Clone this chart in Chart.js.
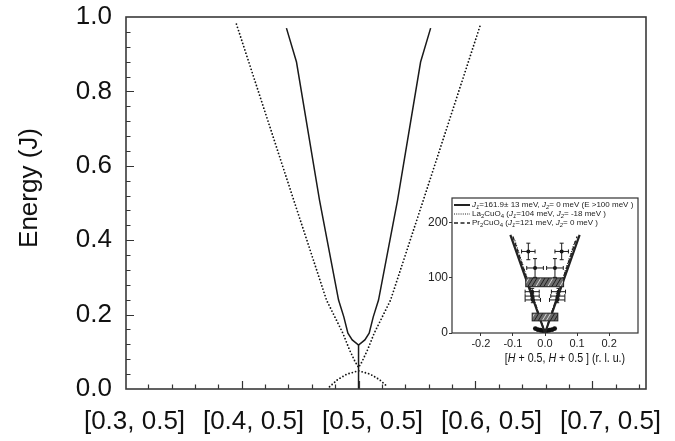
<!DOCTYPE html>
<html>
<head>
<meta charset="utf-8">
<script src="https://cdn.jsdelivr.net/npm/chart.js@4.4.1/dist/chart.umd.min.js"></script>
<style>
html, body { margin: 0; padding: 0; background: #fff; }
#wrap { position: relative; width: 675px; height: 441px; }
#main { position: absolute; left: 0; top: 0; }
#inset { position: absolute; left: 418px; top: 194px; }
</style>
</head>
<body>
<div id="wrap">
<canvas id="main" width="675" height="441"></canvas>
<canvas id="inset" width="224" height="176"></canvas>
</div>
<script>
// ---- main panel data (q along [H, 0.5], energy in units of J) ----
var xTickVals = [0.3, 0.4, 0.5, 0.6, 0.7];
var xTickLabels = ['[0.3, 0.5]', '[0.4, 0.5]', '[0.5, 0.5]', '[0.6, 0.5]', '[0.7, 0.5]'];
var yTickVals = [0, 0.2, 0.4, 0.6, 0.8, 1.0];

// gapped branch (solid)
var gapQ = [0.4383, 0.4469, 0.4666, 0.4829, 0.4874, 0.4909, 0.4946, 0.5, 0.5054, 0.5091, 0.5126, 0.5171, 0.5334, 0.5531, 0.5617];
var gapE = [0.970, 0.879, 0.508, 0.239, 0.194, 0.150, 0.132, 0.118, 0.132, 0.150, 0.194, 0.239, 0.508, 0.879, 0.970];
// vertical line under the gap
var spikeQ = [0.5, 0.5];
var spikeE = [0.118, 0];
// linear spin wave (dotted)
var lswQ = [0.3955, 0.4440, 0.4726, 0.4866, 0.4923, 0.4971, 0.5, 0.5029, 0.5077, 0.5134, 0.5274, 0.5560, 0.6045];
var lswE = [0.981, 0.513, 0.239, 0.150, 0.105, 0.073, 0.058, 0.073, 0.105, 0.150, 0.239, 0.513, 0.981];
// low dome (dotted)
var domeQ = [0.4752, 0.482, 0.49, 0.5, 0.51, 0.518, 0.5248];
var domeE = [0.006, 0.025, 0.040, 0.049, 0.040, 0.025, 0.006];

// ---- inset data (q in r.l.u., energy in meV) ----
var insXTicks = [-0.2, -0.1, 0, 0.1, 0.2];
var insYTicks = [0, 100, 200];
var fitQ = [-0.108, 0, 0.108];
var fitE = [178, 0, 178];
var laQ = [-0.094, 0, 0.094];
var laE = [168, 0, 168];
var prQ = [-0.100, 0, 0.100];
var prE = [175, 0, 175];
// measured peaks with error bars
var errQ  = [-0.052, 0.052, -0.031, 0.031, -0.040, 0.042, -0.040, 0.040, -0.038, 0.038];
var errE  = [148, 148, 118, 118, 75, 75, 67, 67, 60, 60];
var errDq = [0.021, 0.021, 0.026, 0.026, 0.022, 0.022, 0.022, 0.022, 0.024, 0.024];
var errDE = [15, 15, 17, 17, 6, 6, 5, 5, 5, 5];
// hatched bands
var bandQ0 = [-0.060, -0.040];
var bandQ1 = [0.058, 0.040];
var bandE0 = [84, 22];
var bandE1 = [100, 36];
// dark spot near zero energy
var spotQ = [-0.030, -0.022, -0.014, -0.006, 0, 0.006, 0.014, 0.022, 0.030];
var spotE = [8, 6, 5, 4, 2, 4, 5, 6, 8];

var FONT = '"Liberation Sans", Arial, Helvetica, sans-serif';

function pts(xs, ys) {
    return xs.map(function(x, i) { return {x: x, y: ys[i]}; });
}
// keep tick labels from pushing the plot area around
function noPad(s) {
    s.paddingLeft = 0; s.paddingRight = 0; s.paddingTop = 0; s.paddingBottom = 0;
}

// inward ticks + box frame for the main panel
var mainFrame = {
    id: 'mainFrame',
    afterDraw: function(chart) {
        var ctx = chart.ctx, a = chart.chartArea;
        var xs = chart.scales.x, ys = chart.scales.y;
        ctx.save();
        ctx.strokeStyle = '#333';
        ctx.lineWidth = 1.2;
        ctx.beginPath();
        for (var i = 0; i <= 22; i++) {
            var v = 0.3 + i * 0.02;
            var px = Math.round(xs.getPixelForValue(v)) + 0.5;
            if (px < a.left + 1 || px > a.right - 1) continue;
            var len = (i % 5 === 0) ? 8 : 4.5;
            ctx.moveTo(px, a.bottom);
            ctx.lineTo(px, a.bottom - len);
        }
        for (var j = 1; j < 25; j++) {
            var py = Math.round(ys.getPixelForValue(j * 0.04)) + 0.5;
            var l2 = (j % 5 === 0) ? 8 : 4.5;
            ctx.moveTo(a.left, py);
            ctx.lineTo(a.left + l2, py);
        }
        ctx.stroke();
        ctx.lineWidth = 1.6;
        ctx.strokeStyle = '#3a3a3a';
        ctx.strokeRect(a.left, a.top, a.right - a.left, a.bottom - a.top);
        // y title
        ctx.fillStyle = '#111';
        ctx.font = '26px ' + FONT;
        ctx.textAlign = 'center';
        ctx.textBaseline = 'middle';
        ctx.translate(30, 188);
        ctx.rotate(-Math.PI / 2);
        ctx.fillText('Energy (J)', 0, 0);
        ctx.restore();
    }
};

new Chart(document.getElementById('main'), {
    type: 'line',
    data: {
        datasets: [{
            label: 'gap',
            data: pts(gapQ, gapE),
            borderColor: '#1a1a1a',
            borderWidth: 1.5,
            pointRadius: 0,
            fill: false
        }, {
            label: 'spike',
            data: pts(spikeQ, spikeE),
            borderColor: '#1a1a1a',
            borderWidth: 1.5,
            pointRadius: 0,
            fill: false
        }, {
            label: 'lsw',
            data: pts(lswQ, lswE),
            borderColor: '#111',
            borderWidth: 1.8,
            borderDash: [0, 3.4],
            borderCapStyle: 'round',
            pointRadius: 0,
            fill: false
        }, {
            label: 'dome',
            data: pts(domeQ, domeE),
            borderColor: '#111',
            borderWidth: 1.8,
            borderDash: [0, 3.4],
            borderCapStyle: 'round',
            pointRadius: 0,
            fill: false
        }]
    },
    options: {
        responsive: false,
        animation: false,
        layout: { padding: { top: 17, right: 29, left: 0, bottom: 0 } },
        plugins: {
            legend: { display: false },
            tooltip: { enabled: false }
        },
        scales: {
            x: {
                type: 'linear',
                display: false,
                min: 0.301,
                max: 0.746
            },
            xl: {
                type: 'linear',
                axis: 'x',
                position: 'bottom',
                min: 0.29286,
                max: 0.72983,
                afterBuildTicks: function(s) { s.ticks = xTickVals.map(function(v) { return {value: v}; }); },
                afterFit: function(s) { s.height = 52; noPad(s); },
                grid: { display: false, drawTicks: false },
                border: { display: false },
                ticks: {
                    autoSkip: false,
                    maxRotation: 0,
                    padding: 17,
                    color: '#111',
                    font: { family: FONT, size: 26 },
                    callback: function(v, i) { return xTickLabels[i]; }
                }
            },
            y: {
                type: 'linear',
                min: 0,
                max: 1,
                afterBuildTicks: function(s) { s.ticks = yTickVals.map(function(v) { return {value: v}; }); },
                afterFit: function(s) { s.width = 126; noPad(s); },
                grid: { display: false, drawTicks: false },
                border: { display: false },
                ticks: {
                    padding: 14,
                    color: '#111',
                    font: { family: FONT, size: 26 },
                    callback: function(v) { return v.toFixed(1); }
                }
            }
        }
    },
    plugins: [mainFrame]
});

// ---- inset extras: frame, error bars, hatched bands, legend, axis title ----
function richText(ctx, x, y, parts, size) {
    parts.forEach(function(p) {
        var sz = p.sub ? size * 0.75 : size;
        ctx.font = (p.it ? 'italic ' : '') + sz + 'px ' + FONT;
        ctx.fillText(p.t, x, y + (p.sub ? size * 0.28 : 0));
        x += ctx.measureText(p.t).width;
    });
    return x;
}
function textWidth(ctx, parts, size) {
    var w = 0;
    parts.forEach(function(p) {
        var sz = p.sub ? size * 0.75 : size;
        ctx.font = (p.it ? 'italic ' : '') + sz + 'px ' + FONT;
        w += ctx.measureText(p.t).width;
    });
    return w;
}

var legendRows = [
    { dash: [], width: 2, parts: [{t: 'J', it: 1}, {t: '1', it: 1, sub: 1}, {t: '=161.9\u00b1 13 meV, '}, {t: 'J', it: 1}, {t: '2', it: 1, sub: 1}, {t: '= 0 meV (E >100 meV )'}] },
    { dash: [1, 1.2], width: 1, parts: [{t: 'La'}, {t: '2', sub: 1}, {t: 'CuO'}, {t: '4', sub: 1}, {t: ' ('}, {t: 'J', it: 1}, {t: '1', it: 1, sub: 1}, {t: '=104 meV, '}, {t: 'J', it: 1}, {t: '2', it: 1, sub: 1}, {t: '= -18 meV )'}] },
    { dash: [4, 2.5], width: 1.4, parts: [{t: 'Pr'}, {t: '2', sub: 1}, {t: 'CuO'}, {t: '4', sub: 1}, {t: ' ('}, {t: 'J', it: 1}, {t: '1', it: 1, sub: 1}, {t: '=121 meV, '}, {t: 'J', it: 1}, {t: '2', it: 1, sub: 1}, {t: '= 0 meV )'}] }
];
var insTitle = [{t: '['}, {t: 'H', it: 1}, {t: ' + 0.5, '}, {t: 'H', it: 1}, {t: ' + 0.5 ] (r. l. u.)'}];

var insetExtras = {
    id: 'insetExtras',
    afterDatasetsDraw: function(chart) {
        var ctx = chart.ctx;
        var xs = chart.scales.x, ys = chart.scales.y;
        ctx.save();
        // hatched bands
        for (var b = 0; b < bandQ0.length; b++) {
            var x0 = xs.getPixelForValue(bandQ0[b]), x1 = xs.getPixelForValue(bandQ1[b]);
            var y0 = ys.getPixelForValue(bandE1[b]), y1 = ys.getPixelForValue(bandE0[b]);
            ctx.fillStyle = '#6a6a6a';
            ctx.fillRect(x0, y0, x1 - x0, y1 - y0);
            ctx.save();
            ctx.beginPath();
            ctx.rect(x0, y0, x1 - x0, y1 - y0);
            ctx.clip();
            ctx.lineWidth = 1;
            for (var hx = x0 - 10; hx < x1 + 10; hx += 4) {
                ctx.strokeStyle = (Math.round((hx - x0) / 4) % 3 === 0) ? '#d8d8d8' : '#1e1e1e';
                ctx.beginPath();
                ctx.moveTo(hx, y1);
                ctx.lineTo(hx + (y1 - y0) * 0.6, y0);
                ctx.stroke();
            }
            ctx.restore();
            ctx.strokeStyle = '#222';
            ctx.lineWidth = 1;
            ctx.strokeRect(x0, y0, x1 - x0, y1 - y0);
        }
        // error bars
        ctx.strokeStyle = '#1a1a1a';
        ctx.lineWidth = 1;
        ctx.beginPath();
        for (var i = 0; i < errQ.length; i++) {
            var px = xs.getPixelForValue(errQ[i]), py = ys.getPixelForValue(errE[i]);
            var xl = xs.getPixelForValue(errQ[i] - errDq[i]), xr = xs.getPixelForValue(errQ[i] + errDq[i]);
            var yt = ys.getPixelForValue(errE[i] + errDE[i]), yb = ys.getPixelForValue(errE[i] - errDE[i]);
            ctx.moveTo(xl, py); ctx.lineTo(xr, py);
            ctx.moveTo(xl, py - 2); ctx.lineTo(xl, py + 2);
            ctx.moveTo(xr, py - 2); ctx.lineTo(xr, py + 2);
            ctx.moveTo(px, yt); ctx.lineTo(px, yb);
            ctx.moveTo(px - 2, yt); ctx.lineTo(px + 2, yt);
            ctx.moveTo(px - 2, yb); ctx.lineTo(px + 2, yb);
        }
        ctx.stroke();
        ctx.restore();
    },
    afterDraw: function(chart) {
        var ctx = chart.ctx, a = chart.chartArea;
        ctx.save();
        ctx.strokeStyle = '#333';
        ctx.lineWidth = 1.2;
        ctx.strokeRect(a.left, a.top, a.right - a.left, a.bottom - a.top);
        // legend
        ctx.fillStyle = '#222';
        ctx.textAlign = 'left';
        ctx.textBaseline = 'middle';
        legendRows.forEach(function(r, k) {
            var ly = a.top + 7 + k * 9;
            ctx.strokeStyle = '#222';
            ctx.lineWidth = r.width;
            ctx.setLineDash(r.dash);
            ctx.beginPath();
            ctx.moveTo(a.left + 2, ly);
            ctx.lineTo(a.left + 18, ly);
            ctx.stroke();
            ctx.setLineDash([]);
            richText(ctx, a.left + 20, ly, r.parts, 8);
        });
        // axis title, slightly condensed like the original
        ctx.fillStyle = '#111';
        var w = textWidth(ctx, insTitle, 13) * 0.82;
        ctx.translate(147 - w / 2, 164);
        ctx.scale(0.82, 1);
        richText(ctx, 0, 0, insTitle, 13);
        ctx.restore();
    }
};

new Chart(document.getElementById('inset'), {
    type: 'line',
    data: {
        datasets: [{
            data: pts(fitQ, fitE),
            borderColor: '#222',
            borderWidth: 2.2,
            pointRadius: 0
        }, {
            data: pts(laQ, laE),
            borderColor: '#222',
            borderWidth: 1.2,
            borderDash: [1, 1.5],
            pointRadius: 0
        }, {
            data: pts(prQ, prE),
            borderColor: '#222',
            borderWidth: 1.4,
            borderDash: [4, 2.5],
            pointRadius: 0
        }, {
            type: 'scatter',
            data: pts(errQ, errE),
            pointRadius: 2,
            pointBackgroundColor: '#111',
            pointBorderWidth: 0,
            showLine: false
        }, {
            type: 'scatter',
            data: pts(spotQ, spotE),
            pointRadius: 2.4,
            pointBackgroundColor: '#111',
            pointBorderWidth: 0,
            showLine: false
        }]
    },
    options: {
        responsive: false,
        animation: false,
        layout: { padding: { top: 4, right: 4, left: 0, bottom: 0 } },
        plugins: {
            legend: { display: false },
            tooltip: { enabled: false }
        },
        scales: {
            x: {
                type: 'linear',
                min: -0.29,
                max: 0.29,
                afterBuildTicks: function(s) { s.ticks = insXTicks.map(function(v) { return {value: v}; }); },
                afterFit: function(s) { s.height = 37; noPad(s); },
                grid: { drawOnChartArea: false, tickLength: 3, color: '#333' },
                border: { display: false },
                ticks: {
                    autoSkip: false,
                    maxRotation: 0,
                    padding: 1,
                    color: '#222',
                    font: { family: FONT, size: 11 },
                    callback: function(v) { return v.toFixed(1); }
                }
            },
            y: {
                type: 'linear',
                min: 0,
                max: 245,
                afterBuildTicks: function(s) { s.ticks = insYTicks.map(function(v) { return {value: v}; }); },
                afterFit: function(s) { s.width = 34; noPad(s); },
                grid: { drawOnChartArea: false, tickLength: 3, color: '#333' },
                border: { display: false },
                ticks: {
                    padding: 1,
                    color: '#222',
                    font: { family: FONT, size: 12 },
                    callback: function(v) { return String(v); }
                }
            }
        }
    },
    plugins: [insetExtras]
});
</script>
</body>
</html>
